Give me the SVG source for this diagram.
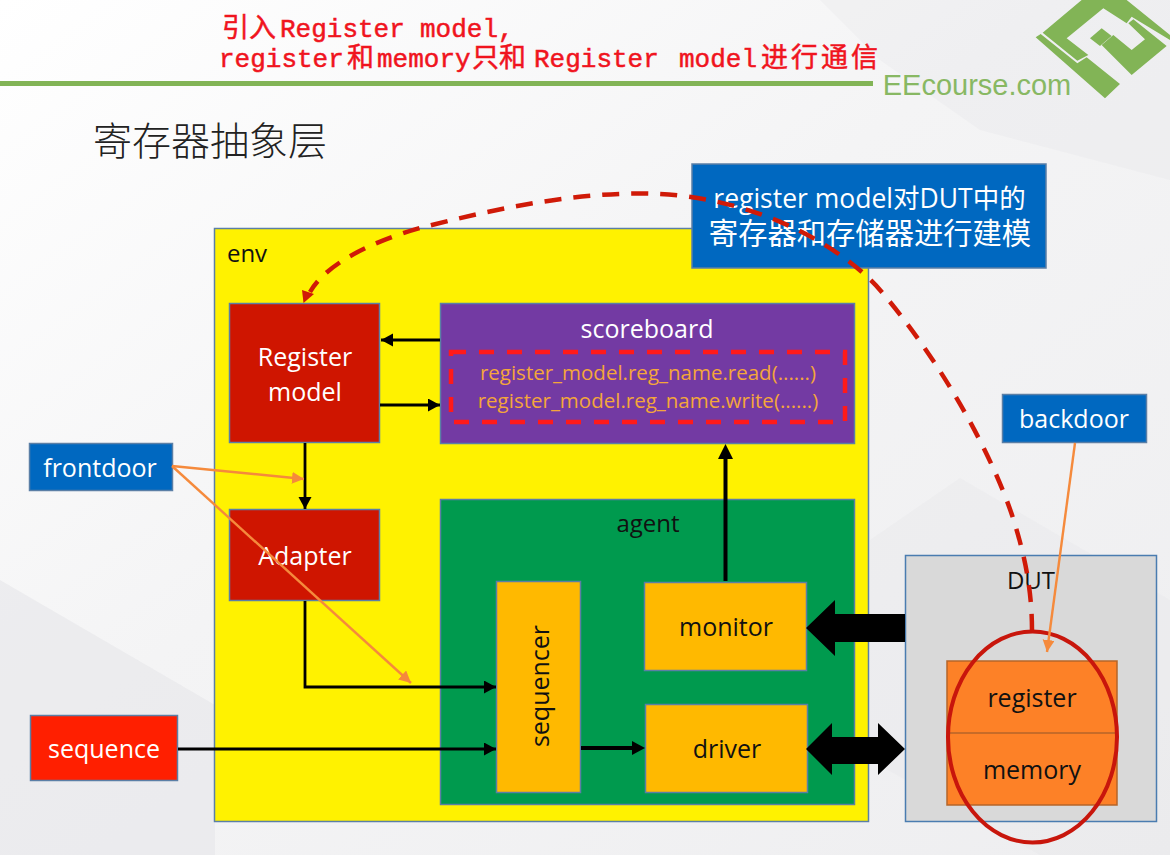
<svg xmlns="http://www.w3.org/2000/svg" width="1170" height="855" viewBox="0 0 1170 855">
<style>
.t{font-family:"Open Sans","Noto Sans CJK SC",sans-serif;text-anchor:middle}
.w{fill:#fff}.k{fill:#111}
.box{stroke:#5b7fa6;stroke-width:1.5}
.thin{fill:none;stroke:#000;stroke-width:2.8}
.or{fill:none;stroke:#f58a3c;stroke-width:2.4}
.m{font-family:"Liberation Mono","Noto Sans CJK SC",monospace;fill:#f0141e;stroke:#f0141e;stroke-width:.5;font-size:26px}
.c{font-family:"Noto Sans CJK SC",sans-serif;font-size:27px}
.f{fill:#e6e6e9;opacity:.3}
</style>
<defs>
<linearGradient id="bg" x1="0" y1="0" x2="1" y2="1"><stop offset="0" stop-color="#ffffff"/><stop offset=".45" stop-color="#f4f4f5"/><stop offset="1" stop-color="#eeeef0"/></linearGradient>
<marker id="ah" markerUnits="userSpaceOnUse" markerWidth="14" markerHeight="14" refX="12" refY="6.500" orient="auto"><path d="M0 0L12 6.500L0 13Z" fill="#000"/></marker>
<marker id="oh" markerUnits="userSpaceOnUse" markerWidth="14" markerHeight="14" refX="12" refY="6" orient="auto"><path d="M0 0L12 6L0 12Z" fill="#f58a3c"/></marker>
</defs>
<g id="background">
<rect width="1170" height="855" fill="url(#bg)"/>
<path class="f" d="M0 580L215 705V855H0Z" style="opacity:.6"/>
<path class="f" d="M820 0H1170V180L980 130L880 60Z"/>
<path class="f" d="M870 540L960 478L1170 600V855H1040L870 760Z"/>
</g>
<rect x="0" y="81" width="873" height="5" fill="#82b456"/>
<g id="logo" fill="#82b456">
<g transform="translate(1020 0) scale(.3333)">
<path d="M185 0L68 98L172 182L205 165L140 115L250 25L320 70L335 50L450 120V105L320 0Z"/>
<path d="M47 112L62 102L172 190L200 172L300 252L255 295Z"/>
<path d="M325 70L340 58L440 138L335 225L245 135L280 105L335 150L375 118Z"/>
<path d="M245 85L275 108L240 138L210 115Z"/>
</g>
<text x="977" y="95" font-family="Liberation Sans,sans-serif" font-size="29" text-anchor="middle" fill="#88b863">EEcourse.com</text>
</g>
<text class="m" y="37"><tspan class="c" x="222">引入</tspan><tspan x="280">Register</tspan><tspan x="420">model,</tspan></text>
<text class="m" y="67"><tspan x="219">register</tspan><tspan class="c" x="347">和</tspan><tspan x="377">memory</tspan><tspan class="c" x="472">只和</tspan><tspan x="534">Register</tspan><tspan x="679">model</tspan><tspan class="c" x="761" letter-spacing="3">进行通信</tspan></text>
<text x="93" y="155" font-family="Noto Sans CJK SC,sans-serif" font-size="39" font-weight="300" fill="#222">寄存器抽象层</text>
<g id="env"><rect x="214.500" y="228.500" width="654" height="593" fill="#fff200" class="box"/><text class="t k" x="247" y="262" font-size="24">env</text></g>
<g id="register-model"><rect x="229.500" y="303.500" width="150" height="139" fill="#cf1500" class="box"/><text class="t w" x="305" y="366" font-size="25">Register</text><text class="t w" x="305" y="401" font-size="25">model</text></g>
<g id="scoreboard"><rect x="440.500" y="303.500" width="414" height="140" class="box" style="fill:#733aa3"/><text class="t w" x="647" y="338" font-size="25">scoreboard</text>
<rect x="451" y="352" width="394" height="70" fill="none" stroke="#ff1a1a" stroke-width="4.500" stroke-dasharray="15 13"/>
<text class="t" x="648" y="380" font-size="20.500" fill="#f4a63a">register_model.reg_name.read(......)</text>
<text class="t" x="648" y="408" font-size="20.500" fill="#f4a63a">register_model.reg_name.write(......)</text></g>
<g id="adapter"><rect x="229.500" y="509.500" width="150" height="91" fill="#cf1500" class="box"/><text class="t w" x="305" y="565" font-size="25">Adapter</text></g>
<g id="agent"><rect x="440.500" y="499.500" width="414" height="305" fill="#009a4e" class="box"/><text class="t k" x="648" y="532" font-size="24">agent</text></g>
<g id="sequencer"><rect x="496.500" y="581.500" width="84" height="211" fill="#ffb900" class="box"/><text class="t k" transform="translate(549 686) rotate(-90)" font-size="25">sequencer</text></g>
<g id="monitor"><rect x="644.500" y="582.500" width="162" height="88" fill="#ffb900" class="box"/><text class="t k" x="726" y="636" font-size="25">monitor</text></g>
<g id="driver"><rect x="645.500" y="704.500" width="162" height="88" fill="#ffb900" class="box"/><text class="t k" x="727" y="758" font-size="25">driver</text></g>
<g id="frontdoor"><rect x="29.500" y="443.500" width="143" height="47" fill="#0068c0" class="box"/><text class="t w" x="100" y="477" font-size="25">frontdoor</text></g>
<g id="sequence"><rect x="30.500" y="715.500" width="147" height="65" fill="#ff1f00" class="box"/><text class="t w" x="104" y="758" font-size="25">sequence</text></g>
<g id="dut"><rect x="905.500" y="555.500" width="251" height="266" fill="#d9d9d9" stroke="#4a7cb0" stroke-width="1.500"/><text class="t k" x="1031" y="589" font-size="24">DUT</text></g>
<g id="memory-block"><rect x="947" y="661" width="170" height="144" fill="#fd8127" stroke="#b5652a" stroke-width="1.500"/><path d="M947 733H1117" stroke="#b5652a" stroke-width="1.500"/><text class="t k" x="1032" y="707" font-size="25">register</text><text class="t k" x="1032" y="779" font-size="25">memory</text></g>
<g id="connectors">
<path class="thin" d="M440 340H381" marker-end="url(#ah)"/>
<path class="thin" d="M380 405H440" marker-end="url(#ah)"/>
<path class="thin" d="M305 443V509" marker-end="url(#ah)"/>
<path class="thin" d="M305 601V687H496" marker-end="url(#ah)"/>
<path class="thin" d="M178 749H496" marker-end="url(#ah)"/>
<path d="M581 748H632" stroke="#000" stroke-width="4" fill="none"/><path d="M632 741L645 748L632 755Z"/>
<path d="M725.500 581V458" stroke="#000" stroke-width="4" fill="none"/><path d="M718 459L725.500 444L733 459Z"/>
<path d="M905 614H835V600L806 628L835 656V642H905Z"/>
<path d="M806 749L832 723V737H878V723L905 749L878 775V764H832V775Z"/>
<path class="or" d="M172 466L304 479" marker-end="url(#oh)"/>
<path class="or" d="M172 466L411 683" marker-end="url(#oh)"/>
</g>
<g id="callout"><rect x="692" y="164" width="354" height="104" fill="#0068c0" stroke="#5b7fa6" stroke-width="1.500"/><text class="t w" x="869.500" y="208" font-size="26.500">register model对DUT中的</text><text class="t w" x="870" y="244" font-size="29.300">寄存器和存储器进行建模</text></g>
<g id="overlay">
<path d="M1032 631C1032 590 1025 555 1012 515C990 450 940 360 880 290C850 255 770 200 660 194C580 190 490 210 420 228C370 242 325 265 310 292" fill="none" stroke="#d01a08" stroke-width="4.500" stroke-dasharray="17 12"/>
<path d="M303.500 303L302 290L314 294Z" fill="#d01a08"/>
<ellipse cx="1032.500" cy="737" rx="84.500" ry="105.500" fill="none" stroke="#c8160c" stroke-width="4"/>
</g>
<g id="backdoor"><rect x="1002.500" y="394.500" width="144" height="48" fill="#0068c0" class="box"/><text class="t w" x="1074" y="428" font-size="25">backdoor</text></g>
<path class="or" d="M1075 443L1047 652" marker-end="url(#oh)"/>
</svg>
